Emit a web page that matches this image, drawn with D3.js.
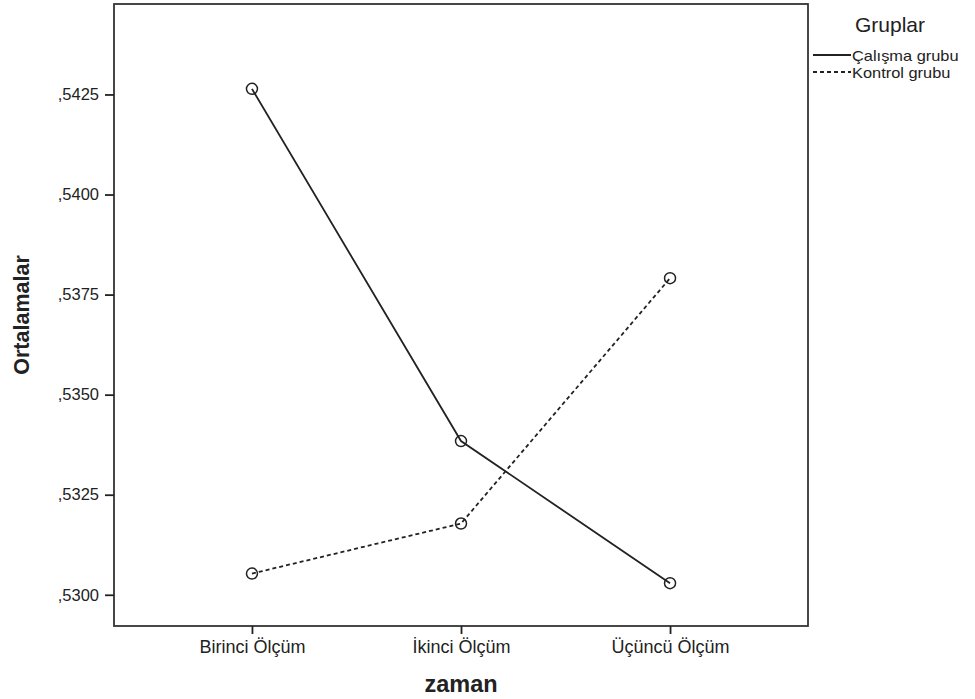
<!DOCTYPE html>
<html>
<head>
<meta charset="utf-8">
<script src="https://cdn.jsdelivr.net/npm/d3@7"></script>
<style>
  body { margin: 0; background: #fff; }
  text { font-family: "Liberation Sans", Arial, sans-serif; fill: #222; }
</style>
</head>
<body>
<svg width="975" height="699"></svg>
<script>
const categories = ["Birinci Ölçüm", "İkinci Ölçüm", "Üçüncü Ölçüm"];
const calisma = [0.54264, 0.53384, 0.53029];
const kontrol = [0.53053, 0.53178, 0.53791];
const yTicks = [0.5300, 0.5325, 0.5350, 0.5375, 0.5400, 0.5425];
const seriesNames = ["Çalışma grubu", "Kontrol grubu"];

const svg = d3.select("svg");
const plotL = 114, plotR = 808, plotT = 4, plotB = 626;

const x = d3.scalePoint()
    .domain(categories)
    .range([plotL, plotR])
    .padding(0.66);

const y = d3.scaleLinear()
    .domain([0.52922, 0.54476])
    .range([plotB, plotT]);

// frame
svg.append("rect")
    .attr("x", plotL).attr("y", plotT)
    .attr("width", plotR - plotL).attr("height", plotB - plotT)
    .attr("fill", "none")
    .attr("stroke", "#333")
    .attr("stroke-width", 1.8);

// y axis
const yAxis = svg.append("g")
    .attr("transform", `translate(${plotL},0)`)
    .call(d3.axisLeft(y).tickValues(yTicks).tickSize(9).tickPadding(6)
        .tickFormat(d => "," + d3.format(".4f")(d).slice(2)));
yAxis.select(".domain").remove();
yAxis.selectAll("line").attr("stroke", "#222").attr("stroke-width", 1.8);
yAxis.selectAll("text").style("font-size", "16.5px").attr("fill", "#222");

// x axis
const xAxis = svg.append("g")
    .attr("transform", `translate(0,${plotB})`)
    .call(d3.axisBottom(x).tickSize(8).tickPadding(6));
xAxis.select(".domain").remove();
xAxis.selectAll("line").attr("stroke", "#222").attr("stroke-width", 1.8);
xAxis.selectAll("text").style("font-size", "18px").attr("fill", "#222");

// axis titles
svg.append("text")
    .attr("transform", `translate(29,${(plotT + plotB) / 2}) rotate(-90)`)
    .attr("text-anchor", "middle")
    .style("font-size", "21.5px")
    .style("font-weight", "bold")
    .text("Ortalamalar");

svg.append("text")
    .attr("x", 461)
    .attr("y", 692)
    .attr("text-anchor", "middle")
    .style("font-size", "23.5px")
    .style("font-weight", "bold")
    .text("zaman");

// lines
const line = d3.line()
    .x((d, i) => x(categories[i]))
    .y(d => y(d));

const series = [
    { name: seriesNames[0], values: calisma, dash: null },
    { name: seriesNames[1], values: kontrol, dash: "4,3" }
];

series.forEach(s => {
    svg.append("path")
        .datum(s.values)
        .attr("d", line)
        .attr("fill", "none")
        .attr("stroke", "#222")
        .attr("stroke-width", 1.8)
        .attr("stroke-dasharray", s.dash);

    svg.selectAll(null)
        .data(s.values)
        .enter().append("circle")
        .attr("cx", (d, i) => x(categories[i]))
        .attr("cy", d => y(d))
        .attr("r", 5.5)
        .attr("fill", "none")
        .attr("stroke", "#222")
        .attr("stroke-width", 1.5);
});

// legend
svg.append("text")
    .attr("x", 855).attr("y", 32)
    .style("font-size", "21px")
    .text("Gruplar");

series.forEach((s, i) => {
    const ly = 55 + i * 17;
    svg.append("line")
        .attr("x1", 813).attr("x2", 851)
        .attr("y1", ly).attr("y2", ly)
        .attr("stroke", "#222")
        .attr("stroke-width", 1.8)
        .attr("stroke-dasharray", s.dash);
    svg.append("text")
        .attr("transform", `translate(852,${ly + 5.5}) scale(1.13,1)`)
        .style("font-size", "14.5px")
        .text(s.name);
});
</script>
</body>
</html>
